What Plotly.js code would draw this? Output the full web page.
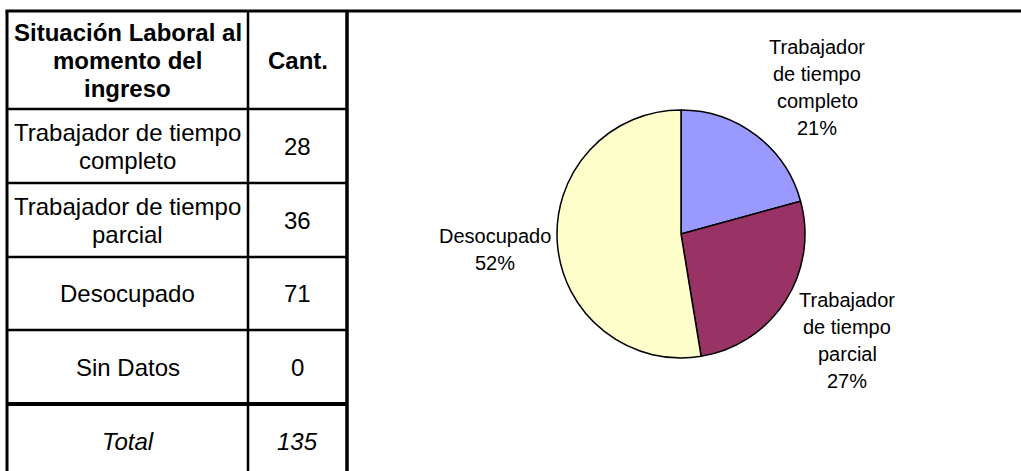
<!DOCTYPE html>
<html>
<head>
<meta charset="utf-8">
<script src="https://cdn.plot.ly/plotly-3.0.1.min.js"></script>
<style>
  html, body { margin: 0; padding: 0; background: #fff; }
  #chart { width: 1021px; height: 471px; }
</style>
</head>
<body>
<div id="chart"></div>
<script>
/* Datos */
const headers     = ['Situación Laboral al<br>momento del<br>ingreso', 'Cant.'];
const categories  = ['Trabajador de tiempo completo', 'Trabajador de tiempo parcial', 'Desocupado', 'Sin Datos'];
const counts      = [28, 36, 71, 0];
const totalLabel  = 'Total';
const sliceColors = ['#9999FF', '#993366', '#FFFFCC', '#CCFFFF'];

/* Geometría (px) */
const W = 1021, H = 471;
const COL_X = [7, 248, 347];
const ROW_Y = [11, 109, 183, 257, 330, 404, 478];
const PIE = { cx: 681, cy: 234, r: 124 };
const FONT = 'Arial, "Liberation Sans", sans-serif';
const TABLE_FS = 24, TABLE_LH = 28;
const LABEL_FS = 20, LABEL_LH = 27, LABEL_GAP = 4;
const LABEL_TOP = ROW_Y[0] + 22, LABEL_BOTTOM = H - 10;   // límites del área del gráfico

/* ajuste de texto por palabras */
function wrap (txt, maxLen) {
  const out = [];
  let line = '';
  txt.split(' ').forEach(w => {
    if (line && (line + ' ' + w).length > maxLen) { out.push(line); line = w; }
    else line = line ? line + ' ' + w : w;
  });
  if (line) out.push(line);
  return out;
}

/* porcentajes que suman 100 (resto mayor, como Excel) */
function roundedPercents (vals) {
  const tot = vals.reduce((s, v) => s + v, 0);
  const raw = vals.map(v => v / tot * 100);
  const fl  = raw.map(Math.floor);
  let left  = 100 - fl.reduce((s, v) => s + v, 0);
  raw.map((r, i) => [r - fl[i], i]).sort((a, b) => b[0] - a[0])
     .forEach(([, i]) => { if (left > 0) { fl[i]++; left--; } });
  return fl;
}

/* medir ancho de texto */
const ctx = document.createElement('canvas').getContext('2d');
function textWidth (s, size, bold) {
  ctx.font = (bold ? 'bold ' : '') + size + 'px ' + FONT;
  return ctx.measureText(s).width;
}

/* una anotación por línea, para controlar el interlineado */
function lineAnnotations (lines, x, yc, size, lh, style) {
  return lines.map((ln, k) => ({
    xref: 'x', yref: 'y',
    x, y: yc + (k - (lines.length - 1) / 2) * lh,
    text: style === 'b' ? '<b>' + ln + '</b>' : style === 'i' ? '<i>' + ln + '</i>' : ln,
    showarrow: false, xanchor: 'center', yanchor: 'middle',
    font: { family: FONT, size, color: '#000' }
  }));
}

const total = counts.reduce((s, v) => s + v, 0);

/* Pie: solo categorías con valor */
const idx   = counts.map((v, i) => i).filter(i => counts[i] > 0);
const pVals = idx.map(i => counts[i]);
const pPct  = roundedPercents(pVals);
const pTot  = pVals.reduce((s, v) => s + v, 0);

const pie = {
  type: 'pie',
  labels: idx.map(i => categories[i]),
  values: pVals,
  textinfo: 'none',
  sort: false,
  direction: 'clockwise',
  rotation: 0,
  marker: { colors: idx.map(i => sliceColors[i]), line: { color: '#000', width: 1.5 } },
  domain: {
    x: [(PIE.cx - PIE.r) / W, (PIE.cx + PIE.r) / W],
    y: [(H - PIE.cy - PIE.r) / H, (H - PIE.cy + PIE.r) / H]
  },
  hoverinfo: 'skip',
  showlegend: false
};

/* Tabla: líneas */
const line = (x0, y0, x1, y1, w) => ({
  type: 'line', xref: 'x', yref: 'y', x0, y0, x1, y1,
  line: { color: '#000', width: w }
});

const shapes = [
  line(COL_X[0] - 1.5, ROW_Y[0], W, ROW_Y[0], 3),           // borde superior
  line(COL_X[0], ROW_Y[0], COL_X[0], H, 3),                 // borde izq.
  line(COL_X[1], ROW_Y[0], COL_X[1], H, 2.5),               // divisor columnas
  line(COL_X[2], ROW_Y[0], COL_X[2], H, 3.5)                // borde der.
];
for (let r = 1; r < ROW_Y.length - 1; r++) {
  shapes.push(line(COL_X[0], ROW_Y[r], COL_X[2], ROW_Y[r], r === ROW_Y.length - 2 ? 4 : 2.5));
}

/* Tabla: textos */
const rows = [
  [ [headers[0].split('<br>'), 'b'], [[headers[1]], 'b'] ],
  ...categories.map((c, i) => [ [wrap(c, 20), ''], [[String(counts[i])], ''] ]),
  [ [[totalLabel], 'i'], [[String(total)], 'i'] ]
];

const annotations = [];
rows.forEach((row, r) => {
  const yc = (ROW_Y[r] + ROW_Y[r + 1]) / 2;
  row.forEach(([lines, style], c) => {
    annotations.push(...lineAnnotations(lines, (COL_X[c] + COL_X[c + 1]) / 2, yc,
                                         TABLE_FS, TABLE_LH, style));
  });
});

/* Etiquetas del pie, fuera de cada porción */
function overlapsPie (xc, yc, w, h) {
  const nx = Math.max(xc - w / 2, Math.min(PIE.cx, xc + w / 2));
  const ny = Math.max(yc - h / 2, Math.min(PIE.cy, yc + h / 2));
  return Math.hypot(nx - PIE.cx, ny - PIE.cy) < PIE.r + LABEL_GAP;
}

let cum = 0;
idx.forEach((i, k) => {
  const mid = (cum + pVals[k] / 2) / pTot * 2 * Math.PI;   // desde las 12, horario
  cum += pVals[k];
  const ux = Math.sin(mid), uy = -Math.cos(mid);
  const lines = [...wrap(categories[i], 10), pPct[k] + '%'];
  const w = Math.max(...lines.map(s => textWidth(s, LABEL_FS)));
  const h = lines.length * LABEL_LH;
  const d = PIE.r + LABEL_GAP + (w / 2) * Math.abs(ux) + (h / 2) * Math.abs(uy);
  let xc = PIE.cx + d * ux, yc = PIE.cy + d * uy;
  // dentro del área del gráfico
  if (yc - h / 2 < LABEL_TOP) yc = LABEL_TOP + h / 2;
  if (yc + h / 2 > LABEL_BOTTOM) yc = LABEL_BOTTOM - h / 2;
  // empujar hacia afuera si pisa el pie
  const step = ux >= 0 ? 1 : -1;
  for (let g = 0; g < 300 && overlapsPie(xc, yc, w, h); g++) xc += step;
  annotations.push(...lineAnnotations(lines, xc, yc, LABEL_FS, LABEL_LH, ''));
});

const layout = {
  width: W, height: H,
  margin: { l: 0, r: 0, t: 0, b: 0 },
  paper_bgcolor: '#fff', plot_bgcolor: '#fff',
  font: { family: FONT, color: '#000' },
  xaxis: { range: [0, W], visible: false, fixedrange: true },
  yaxis: { range: [H, 0], visible: false, fixedrange: true },
  shapes, annotations,
  showlegend: false
};

Plotly.newPlot('chart', [pie], layout, { displayModeBar: false, staticPlot: true });
</script>
</body>
</html>
